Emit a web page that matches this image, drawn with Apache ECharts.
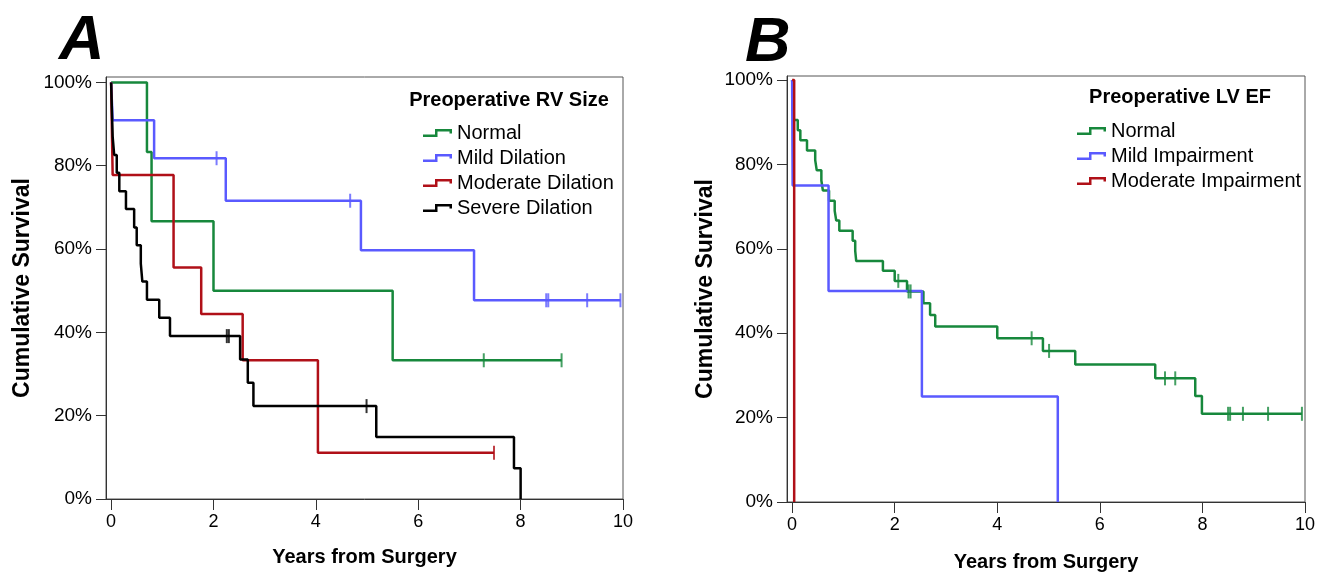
<!DOCTYPE html>
<html>
<head>
<meta charset="utf-8">
<script src="https://cdn.jsdelivr.net/npm/echarts@6/dist/echarts.min.js"></script>
<style>
html, body { margin: 0; padding: 0; background: #fff; }
#chart { width: 1330px; height: 577px; }
</style>
</head>
<body>
<div id="chart"></div>
<script>
// Panel A - preoperative RV size (years, cumulative survival %)
var aNormalT = [0, 0.70, 0.79, 2.00, 5.50, 8.80];
var aNormalS = [100, 83.3, 66.7, 50.0, 33.3, 33.3];
var aNormalC = [7.28, 8.80];

var aMildT = [0, 0.03, 0.84, 2.24, 4.88, 7.09, 9.95];
var aMildS = [100, 90.9, 81.8, 71.6, 59.7, 47.7, 47.7];
var aMildC = [2.06, 4.67, 8.50, 8.54, 9.30, 9.95];

var aModT = [0, 0.03, 1.22, 1.76, 2.57, 4.04, 7.48];
var aModS = [100, 77.8, 55.6, 44.4, 33.3, 11.1, 11.1];
var aModC = [7.48];

var aSevT = [0, 0.01, 0.02, 0.03, 0.06, 0.11, 0.16, 0.29, 0.45, 0.50, 0.58, 0.61, 0.70, 0.94, 1.15, 2.52, 2.67, 2.78, 5.18, 7.87, 8.00];
var aSevS = [100, 95.7, 91.3, 87.0, 82.6, 78.3, 73.9, 69.6, 65.2, 60.9, 56.5, 52.2, 47.8, 43.5, 39.1, 33.5, 27.9, 22.3, 14.9, 7.4, 0];
var aSevC = [2.26, 2.30, 4.99];

// Panel B - preoperative LV EF
var bNormalT = [0, 0.03, 0.11, 0.16, 0.29, 0.45, 0.48, 0.57, 0.60, 0.72, 0.83, 0.86, 0.92, 1.18, 1.23, 1.25, 1.77, 2.00, 2.24, 2.56, 2.69, 2.79, 4.00, 4.89, 5.52, 7.08, 7.86, 7.99, 9.94];
var bNormalS = [100, 90.5, 88.1, 85.7, 83.3, 81.0, 78.6, 76.2, 73.8, 71.4, 69.0, 66.7, 64.3, 61.9, 59.5, 57.1, 54.8, 52.4, 49.9, 47.1, 44.3, 41.6, 38.8, 35.8, 32.6, 29.3, 25.1, 20.9, 20.9];
var bNormalC = [2.07, 2.27, 2.31, 4.67, 5.01, 7.27, 7.47, 8.50, 8.54, 8.79, 9.28, 9.94];

var bMildT = [0, 0.01, 0.71, 2.53, 5.18];
var bMildS = [100, 75, 50, 25, 0];
var bMildC = [];

var bModT = [0, 0.04];
var bModS = [100, 0];
var bModC = [];

var xTicks = [0, 2, 4, 6, 8, 10];
var yTicks = [0, 20, 40, 60, 80, 100];

var GREEN = '#17883c', BLUE = '#5a5aff', RED = '#b01018', BLACK = '#000000';
var FONT = 'Liberation Sans, Arial, sans-serif';
var stepIcon = 'path://M0,5.5L12,5.5L12,0L29,0L29,4.5L26.5,4.5L26.5,2.5L14.5,2.5L14.5,8L0,8Z';

function zip(t, s) {
    var out = [];
    for (var i = 0; i < t.length; i++) out.push([t[i], s[i]]);
    return out;
}
function survAt(t, s, x) {
    var v = s[0];
    for (var i = 0; i < t.length; i++) if (t[i] <= x) v = s[i];
    return v;
}
function curve(name, t, s, color, idx) {
    return {
        name: name, type: 'line', step: 'end', showSymbol: false, symbol: 'none',
        xAxisIndex: idx, yAxisIndex: idx, color: color,
        lineStyle: { color: color, width: 2.5 },
        data: zip(t, s), animation: false, z: 3
    };
}
function censors(name, t, s, c, color, idx) {
    return {
        name: name + ' censored', type: 'scatter', symbol: 'rect', symbolSize: [2, 14],
        xAxisIndex: idx, yAxisIndex: idx,
        itemStyle: { color: color },
        data: c.map(function (x) { return [x, survAt(t, s, x)]; }),
        animation: false, z: 4
    };
}
function xAxis(idx, gap) {
    return {
        type: 'value', gridIndex: idx, min: -0.1, max: 10,
        name: 'Years from Surgery', nameLocation: 'middle', nameGap: gap,
        nameTextStyle: { fontSize: 20, fontWeight: 'bold', fontFamily: FONT, color: '#000' },
        axisLine: { show: true, onZero: false, lineStyle: { color: '#333', width: 1 } },
        axisTick: { show: true, length: 11, customValues: xTicks, lineStyle: { color: '#333' } },
        axisLabel: { customValues: xTicks, fontSize: 18, fontFamily: FONT, color: '#000', margin: 14 },
        splitLine: { show: false }
    };
}
function yAxis(idx, max, gap) {
    return {
        type: 'value', gridIndex: idx, min: 0, max: max,
        name: 'Cumulative Survival', nameLocation: 'middle', nameGap: gap,
        nameTextStyle: { fontSize: 23, fontWeight: 'bold', fontFamily: FONT, color: '#000' },
        axisLine: { show: true, onZero: false, lineStyle: { color: '#333', width: 1 } },
        axisTick: { show: true, length: 10, customValues: yTicks, lineStyle: { color: '#333' } },
        axisLabel: { customValues: yTicks, formatter: '{value}%', fontSize: 19, fontFamily: FONT, color: '#000', margin: 14 },
        splitLine: { show: false }
    };
}
function legend(left, top, names) {
    return {
        orient: 'vertical', left: left, top: top, itemGap: 5,
        itemWidth: 29, itemHeight: 8, icon: stepIcon, selectedMode: false,
        itemStyle: { borderWidth: 0 },
        textStyle: { fontSize: 20, fontFamily: FONT, color: '#000' },
        data: names
    };
}

var chart = echarts.init(document.getElementById('chart'), null, { renderer: 'canvas' });
chart.setOption({
    backgroundColor: '#fff',
    animation: false,
    grid: [
        { left: 106, top: 77, width: 517, height: 422, show: true, borderColor: '#555', borderWidth: 1 },
        { left: 787, top: 76, width: 518, height: 426, show: true, borderColor: '#555', borderWidth: 1 }
    ],
    xAxis: [xAxis(0, 48), xAxis(1, 50)],
    yAxis: [yAxis(0, 101.3, 72), yAxis(1, 100.95, 70)],
    legend: [
        legend(418, 118, ['Normal', 'Mild Dilation', 'Moderate Dilation', 'Severe Dilation']),
        legend(1072, 116, ['Normal', 'Mild Impairment', 'Moderate Impairment'])
    ],
    graphic: [
        { type: 'text', left: 59, top: 10, style: { text: 'A', font: 'italic bold 63px ' + FONT, fill: '#000' } },
        { type: 'text', left: 745, top: 12, style: { text: 'B', font: 'italic bold 63px ' + FONT, fill: '#000' } },
        { type: 'text', x: 509, y: 100, style: { text: 'Preoperative RV Size', font: 'bold 20px ' + FONT, fill: '#000', align: 'center', verticalAlign: 'middle' } },
        { type: 'text', x: 1180, y: 97, style: { text: 'Preoperative LV EF', font: 'bold 20px ' + FONT, fill: '#000', align: 'center', verticalAlign: 'middle' } }
    ],
    series: [
        curve('Normal', aNormalT, aNormalS, GREEN, 0),
        curve('Mild Dilation', aMildT, aMildS, BLUE, 0),
        curve('Moderate Dilation', aModT, aModS, RED, 0),
        curve('Severe Dilation', aSevT, aSevS, BLACK, 0),
        censors('Normal A', aNormalT, aNormalS, aNormalC, GREEN, 0),
        censors('Mild Dilation', aMildT, aMildS, aMildC, BLUE, 0),
        censors('Moderate Dilation', aModT, aModS, aModC, RED, 0),
        censors('Severe Dilation', aSevT, aSevS, aSevC, BLACK, 0),
        curve('Normal', bNormalT, bNormalS, GREEN, 1),
        curve('Mild Impairment', bMildT, bMildS, BLUE, 1),
        curve('Moderate Impairment', bModT, bModS, RED, 1),
        censors('Normal B', bNormalT, bNormalS, bNormalC, GREEN, 1),
        censors('Mild Impairment', bMildT, bMildS, bMildC, BLUE, 1),
        censors('Moderate Impairment', bModT, bModS, bModC, RED, 1)
    ]
});
</script>
</body>
</html>
